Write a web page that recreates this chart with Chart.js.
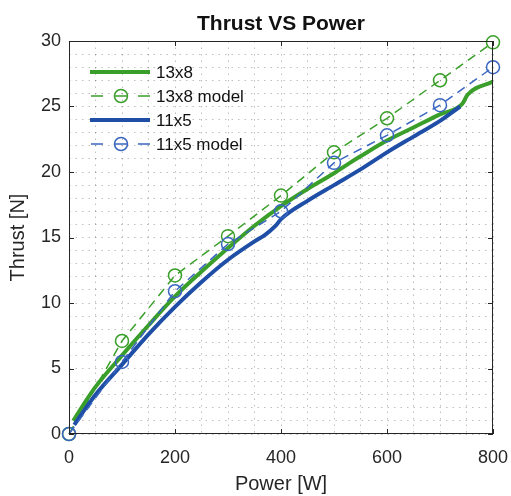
<!DOCTYPE html>
<html>
<head>
<meta charset="utf-8">
<script src="https://cdn.jsdelivr.net/npm/chart.js@4"></script>
<style>
  html, body { margin: 0; padding: 0; background: #fff; }
  #wrap { width: 511px; height: 496px; }
</style>
</head>
<body>
<div id="wrap"><canvas id="thrustChart" width="511" height="496"></canvas></div>
<script>
// measured curves
var power13x8 = [8, 25, 50, 100, 150, 200, 250, 300, 350, 400, 450, 500, 530, 550, 600, 650, 700, 742, 752, 800];
var thrust13x8 = [1.0, 2.1, 3.6, 6.0, 8.3, 10.5, 12.4, 14.2, 15.9, 17.4, 18.7, 19.9, 20.7, 21.2, 22.4, 23.4, 24.4, 25.2, 25.9, 26.9];
var power11x5 = [10, 25, 50, 100, 150, 200, 250, 300, 350, 370, 390, 400, 450, 500, 550, 600, 650, 700, 738];
var thrust11x5 = [0.7, 1.6, 3.0, 5.3, 7.6, 9.7, 11.6, 13.3, 14.7, 15.2, 15.9, 16.4, 17.8, 19.0, 20.2, 21.5, 22.7, 23.9, 25.0];

// model points
var modelPower = [0, 100, 200, 300, 400, 500, 600, 700, 800];
var model13x8 = [0, 7.1, 12.1, 15.1, 18.2, 21.5, 24.1, 27.0, 29.9];
var model11x5 = [0, 5.5, 10.9, 14.5, 17.0, 20.7, 22.8, 25.1, 28.0];

var xTickLabels = [0, 200, 400, 600, 800];
var yTickLabels = [0, 5, 10, 15, 20, 25, 30];

var green = '#3a9f2a';
var blue = '#1f4ea6';
var blueModel = '#3a66c0';
var ink = '#262626';

function toPoints(xs, ys) {
    return xs.map(function(x, i) { return { x: x, y: ys[i] }; });
}

// title, box, inward ticks
var framePlugin = {
    id: 'frame',
    afterDraw: function(chart) {
        var ctx = chart.ctx;
        var a = chart.chartArea;
        var xs = chart.scales.x, ys = chart.scales.y;
        ctx.save();
        ctx.strokeStyle = ink;
        ctx.lineWidth = 1;
        ctx.strokeRect(a.left + 0.5, a.top + 0.5, a.right - a.left - 1, a.bottom - a.top - 1);
        ctx.beginPath();
        xTickLabels.forEach(function(v) {
            var px = Math.round(xs.getPixelForValue(v)) + 0.5;
            ctx.moveTo(px, a.bottom); ctx.lineTo(px, a.bottom - 5);
            ctx.moveTo(px, a.top); ctx.lineTo(px, a.top + 5);
        });
        yTickLabels.forEach(function(v) {
            var py = Math.round(ys.getPixelForValue(v)) + 0.5;
            ctx.moveTo(a.left, py); ctx.lineTo(a.left + 5, py);
            ctx.moveTo(a.right, py); ctx.lineTo(a.right - 5, py);
        });
        ctx.stroke();

        ctx.fillStyle = '#111';
        ctx.font = 'bold 21px "Liberation Sans", Arial, sans-serif';
        ctx.textAlign = 'center';
        ctx.textBaseline = 'alphabetic';
        ctx.fillText('Thrust VS Power', (a.left + a.right) / 2, 30);
        ctx.restore();
    }
};

// legend drawn inside the axes, no box
var legendPlugin = {
    id: 'insideLegend',
    afterDatasetsDraw: function(chart) {
        var ctx = chart.ctx;
        var rows = [72, 96, 120, 144];
        ctx.save();
        chart.data.datasets.forEach(function(ds, i) {
            var y = rows[i];
            ctx.strokeStyle = ds.borderColor;
            ctx.lineWidth = ds.borderWidth;
            ctx.beginPath();
            if (ds.pointRadius > 0) {
                ctx.moveTo(91, y); ctx.lineTo(103, y);
                ctx.moveTo(114, y); ctx.lineTo(128, y);
                ctx.moveTo(138, y); ctx.lineTo(150, y);
                ctx.stroke();
                ctx.beginPath();
                ctx.arc(121, y, ds.pointRadius, 0, Math.PI * 2);
                ctx.stroke();
            } else {
                ctx.moveTo(90, y); ctx.lineTo(150, y);
                ctx.stroke();
            }
            ctx.fillStyle = '#111';
            ctx.font = '17px "Liberation Sans", Arial, sans-serif';
            ctx.textAlign = 'left';
            ctx.textBaseline = 'middle';
            ctx.fillText(ds.label, 156, y + 1);
        });
        ctx.restore();
    }
};

var ctx = document.getElementById('thrustChart').getContext('2d');
var chart = new Chart(ctx, {
    type: 'scatter',
    data: {
        datasets: [{
            label: '13x8',
            data: toPoints(power13x8, thrust13x8),
            showLine: true,
            borderColor: green,
            borderWidth: 4,
            pointRadius: 0,
            cubicInterpolationMode: 'monotone',
            order: 3
        }, {
            label: '13x8 model',
            data: toPoints(modelPower, model13x8),
            showLine: true,
            borderColor: green,
            borderWidth: 1.5,
            borderDash: [9, 6],
            pointRadius: 6.5,
            pointBorderWidth: 1.5,
            pointBorderColor: green,
            pointBackgroundColor: 'rgba(0,0,0,0)',
            clip: false,
            order: 2
        }, {
            label: '11x5',
            data: toPoints(power11x5, thrust11x5),
            showLine: true,
            borderColor: blue,
            borderWidth: 4,
            pointRadius: 0,
            cubicInterpolationMode: 'monotone',
            order: 1
        }, {
            label: '11x5 model',
            data: toPoints(modelPower, model11x5),
            showLine: true,
            borderColor: blueModel,
            borderWidth: 1.5,
            borderDash: [9, 6],
            pointRadius: 6.5,
            pointBorderWidth: 1.5,
            pointBorderColor: blueModel,
            pointBackgroundColor: 'rgba(0,0,0,0)',
            clip: false,
            order: 0
        }]
    },
    options: {
        responsive: false,
        animation: false,
        layout: { padding: { top: 41, right: 18, left: 0, bottom: 0 } },
        plugins: {
            legend: { display: false },
            title: { display: false },
            tooltip: { enabled: false }
        },
        scales: {
            x: {
                type: 'linear',
                min: 0,
                max: 800,
                afterFit: function(s) {
                    s.height = 62;
                    s.paddingLeft = 0;
                    s.paddingRight = 0;
                },
                ticks: {
                    stepSize: 50,
                    autoSkip: false,
                    maxRotation: 0,
                    padding: 13,
                    color: ink,
                    font: { family: '"Liberation Sans", Arial, sans-serif', size: 18 },
                    callback: function(v) { return xTickLabels.indexOf(v) >= 0 ? String(v) : ''; }
                },
                grid: { color: 'rgba(0,0,0,0.25)', lineWidth: 1, drawTicks: false },
                border: { display: false, dash: [1.5, 5] },
                title: {
                    display: true,
                    text: 'Power [W]',
                    color: ink,
                    font: { family: '"Liberation Sans", Arial, sans-serif', size: 20 },
                    padding: { top: 0, bottom: 0 }
                }
            },
            y: {
                type: 'linear',
                min: 0,
                max: 30,
                afterFit: function(s) {
                    s.width = 69;
                    s.paddingTop = 0;
                    s.paddingBottom = 0;
                },
                ticks: {
                    stepSize: 1,
                    autoSkip: false,
                    padding: 8,
                    color: ink,
                    font: { family: '"Liberation Sans", Arial, sans-serif', size: 18 },
                    callback: function(v) { return yTickLabels.indexOf(v) >= 0 ? String(v) : ''; }
                },
                grid: { color: 'rgba(0,0,0,0.25)', lineWidth: 1, drawTicks: false },
                border: { display: false, dash: [1.5, 5] },
                title: {
                    display: true,
                    text: 'Thrust [N]',
                    color: ink,
                    font: { family: '"Liberation Sans", Arial, sans-serif', size: 20 },
                    padding: { top: 6, bottom: 0 }
                }
            }
        }
    },
    plugins: [framePlugin, legendPlugin]
});
</script>
</body>
</html>
